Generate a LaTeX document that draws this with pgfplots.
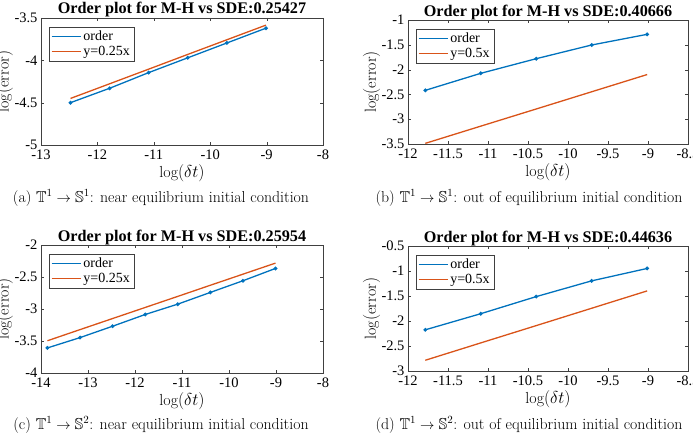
\documentclass[border=0pt]{standalone}
\usepackage{amssymb}
\usepackage{pgfplots}
\pgfplotsset{compat=1.18}
\usepackage{fontspec}
\newfontfamily\tms{Liberation Serif}
\definecolor{mblue}{rgb}{0,0.447,0.741}
\definecolor{morange}{rgb}{0.85,0.325,0.098}
\pgfplotsset{
 mystyle/.style={
  scale only axis,
  axis line style={black!75}, tick style={black!75},
  tick align=inside, major tick length=3pt,
  tick label style={font=\fontsize{14.5}{16}\tms},
  xticklabel style={yshift=-1.5pt},
  /pgf/number format/assume math mode=true,
  title style={font=\fontsize{16.2}{18}\tms\bfseries, at={(0.5,1)}, anchor=base, yshift=-2pt},
  label style={font=\fontsize{16}{18}\selectfont},
  xlabel={$\log(\delta t)$}, ylabel={$\log(\mathrm{error})$},
  xlabel style={at={(axis description cs:0.5,0)}, anchor=center, yshift=-28pt},
  ylabel style={at={(axis description cs:-0.13,0.5)}, anchor=center},
  legend style={at={(0.028,0.93)}, anchor=north west, font=\fontsize{14}{16}\tms,
    draw=black!75, inner sep=2pt, row sep=0pt, cells={anchor=west}},
  legend image code/.code={\draw[##1,mark=none] (0pt,0pt) -- (29pt,0pt);},
 },
 bl/.style={color=mblue, line width=1.3pt, mark=*, mark size=1.2pt},
 rl/.style={color=morange, line width=1.3pt, no marks},
}
\begin{document}
\begin{tikzpicture}[x=1pt,y=1pt]
\useasboundingbox (0,0) rectangle (693,440);
% (a)
\begin{axis}[mystyle, at={(41pt,295pt)}, anchor=south west, width=282pt, height=127pt,
  xmin=-13, xmax=-8, ymin=-5, ymax=-3.5, xtick={-13,-12,...,-8}, ytick={-5,-4.5,-4,-3.5},
  title={Order plot for M-H vs SDE:0.25427}]
\addplot[bl] coordinates {(-12.4766,-4.50) (-11.7835,-4.33) (-11.0904,-4.145) (-10.3972,-3.97) (-9.7041,-3.795) (-9.0109,-3.62)};
\addlegendentry{order}
\addplot[rl] coordinates {(-12.4766,-4.450) (-11.7835,-4.277) (-11.0904,-4.104) (-10.3972,-3.930) (-9.7041,-3.757) (-9.0109,-3.584)};
\addlegendentry{y=0.25x}
\end{axis}
% (b)
\begin{axis}[mystyle, at={(408pt,296pt)}, anchor=south west, width=280pt, height=124pt,
  xmin=-12, xmax=-8.5, ymin=-3.5, ymax=-1, xtick={-12,-11.5,...,-8.5}, ytick={-3.5,-3,...,-1},
  title={Order plot for M-H vs SDE:0.40666}]
\addplot[bl] coordinates {(-11.7835,-2.418) (-11.0904,-2.075) (-10.3972,-1.78) (-9.7041,-1.504) (-9.0109,-1.289)};
\addlegendentry{order}
\addplot[rl] coordinates {(-11.7835,-3.487) (-11.0904,-3.140) (-10.3972,-2.794) (-9.7041,-2.447) (-9.0109,-2.100)};
\addlegendentry{y=0.5x}
\end{axis}
% (c)
\begin{axis}[mystyle, at={(41pt,67pt)}, anchor=south west, width=282pt, height=128pt,
  xmin=-14, xmax=-8, ymin=-4, ymax=-2, xtick={-14,-13,...,-8}, ytick={-4,-3.5,...,-2},
  title={Order plot for M-H vs SDE:0.25954}]
\addplot[bl] coordinates {(-13.8629,-3.608) (-13.1698,-3.447) (-12.4766,-3.269) (-11.7835,-3.086) (-11.0904,-2.924) (-10.3972,-2.741) (-9.7041,-2.559) (-9.0109,-2.366)};
\addlegendentry{order}
\addplot[rl] coordinates {(-13.8629,-3.496) (-13.1698,-3.322) (-12.4766,-3.149) (-11.7835,-2.976) (-11.0904,-2.803) (-10.3972,-2.629) (-9.7041,-2.456) (-9.0109,-2.283)};
\addlegendentry{y=0.25x}
\end{axis}
% (d)
\begin{axis}[mystyle, at={(408pt,69pt)}, anchor=south west, width=280pt, height=125pt,
  xmin=-12, xmax=-8.5, ymin=-3, ymax=-0.5, xtick={-12,-11.5,...,-8.5}, ytick={-3,-2.5,...,-0.5},
  title={Order plot for M-H vs SDE:0.44636}]
\addplot[bl] coordinates {(-11.7835,-2.176) (-11.0904,-1.854) (-10.3972,-1.512) (-9.7041,-1.197) (-9.0109,-0.949)};
\addlegendentry{order}
\addplot[rl] coordinates {(-11.7835,-2.785) (-11.0904,-2.438) (-10.3972,-2.092) (-9.7041,-1.745) (-9.0109,-1.398)};
\addlegendentry{y=0.5x}
\end{axis}
\node[font=\fontsize{15.8}{18}\selectfont] at (161,242) {(a) $\mathbb{T}^1\to\mathbb{S}^1$: near equilibrium initial condition};
\node[font=\fontsize{15.8}{18}\selectfont] at (529,242) {(b) $\mathbb{T}^1\to\mathbb{S}^1$: out of equilibrium initial condition};
\node[font=\fontsize{15.8}{18}\selectfont] at (161,15) {(c) $\mathbb{T}^1\to\mathbb{S}^2$: near equilibrium initial condition};
\node[font=\fontsize{15.8}{18}\selectfont] at (529,15) {(d) $\mathbb{T}^1\to\mathbb{S}^2$: out of equilibrium initial condition};
\end{tikzpicture}
\end{document}
